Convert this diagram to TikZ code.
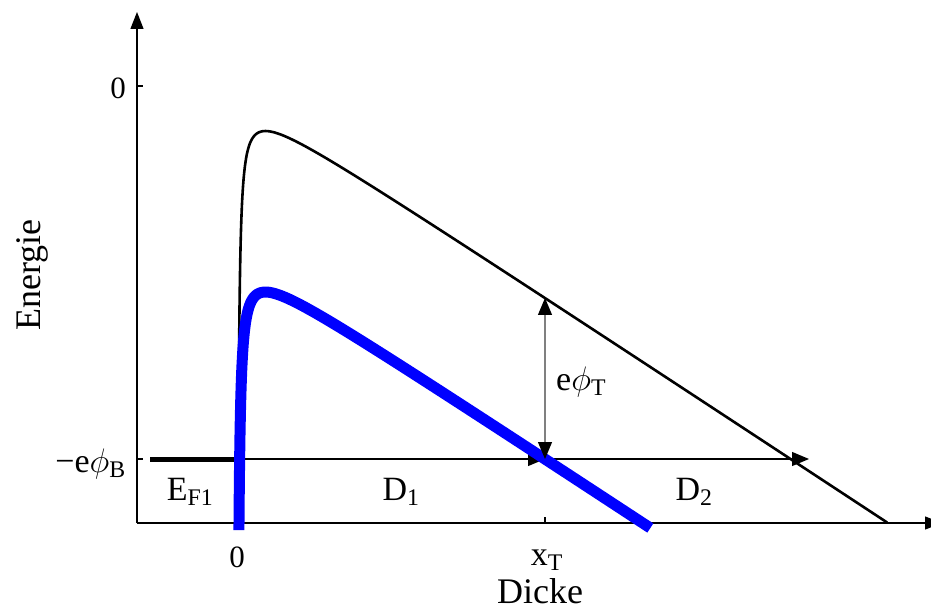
\documentclass[tikz,border=0pt]{standalone}
\usepackage{fix-cm}
\usepackage{fontspec}
\setmainfont{Liberation Serif}
\usetikzlibrary{arrows.meta}
\tikzset{
  axis/.style={line width=1.3pt, -{Triangle[length=17pt,width=13pt]}},
  thinline/.style={line width=1.2pt},
  tip/.style={-{Triangle[length=17pt,width=14pt,color=black]}},
  lbl/.style={font=\fontsize{34}{40}\selectfont, inner sep=0pt},
  ticklbl/.style={font=\fontsize{31}{36}\selectfont, inner sep=0pt},
  axlbl/.style={font=\fontsize{36}{42}\selectfont, inner sep=0pt},
}
\begin{document}
\begin{tikzpicture}[x=1pt,y=-1pt]
\useasboundingbox (0,0) rectangle (931,609);
% coordinates
\coordinate (O) at (137,523);
\coordinate (ytop) at (137,12);
\coordinate (xend) at (942,523);
\coordinate (fl) at (150,459);
\coordinate (f0) at (237,459);
\coordinate (fT) at (545,459);
\coordinate (fTb) at (528,459);
\coordinate (fend) at (809,459);
\coordinate (bT) at (545,298);
% axes
\draw[axis] (O) -- (ytop);
\draw[axis] (O) -- (xend);
% ticks
\draw[thinline] (137,86) -- (143,86);
\draw[thinline] (137,459) -- (143,459);
\draw[thinline] (545,523) -- (545,517);
% black barrier
\draw[line width=2.6pt, line join=round]
  plot[domain=0.642:6.4786, samples=300, smooth] ({237+exp(\x)},{93.5+0.6586*exp(\x)+535/exp(\x)});
% horizontal Fermi line
\draw[line width=5pt] (fl) -- (f0);
\draw[thinline, tip] (f0) -- (fend);
\draw[thinline, tip] (fTb) -- (fT);
% blue barrier
\draw[blue, line width=11pt, line cap=butt]
  plot[domain=0.668:6.025, samples=300, smooth] ({237+exp(\x)},{254.5+0.6586*exp(\x)+535/exp(\x)});
% e phi_T arrow
\draw[line width=1.2pt, gray, {Triangle[length=17pt,width=14pt,color=black]}-{Triangle[length=17pt,width=14pt,color=black]}] (bT) -- (fT);
% labels
\node[ticklbl] (l0y) at (118,88) {0};
\node[ticklbl] (l0x) at (237,557) {0};
\node[lbl, anchor=base east] (lB) at (126,472) {−e$\phi$\textsubscript{B}};
\node[lbl, anchor=base] (lxT) at (547,565) {x\textsubscript{T}};
\node[axlbl, anchor=base] (ldicke) at (540,603) {Dicke};
\node[axlbl, anchor=base, rotate=90] (lener) at (40,275) {Energie};
\node[lbl, anchor=base] (lEF) at (190,500) {E\textsubscript{F1}};
\node[lbl, anchor=base] (lD1) at (401,500) {D\textsubscript{1}};
\node[lbl, anchor=base] (lD2) at (694,500) {D\textsubscript{2}};
\node[lbl, anchor=base west] (lT) at (556,390) {e$\phi$\textsubscript{T}};
\end{tikzpicture}
\end{document}
